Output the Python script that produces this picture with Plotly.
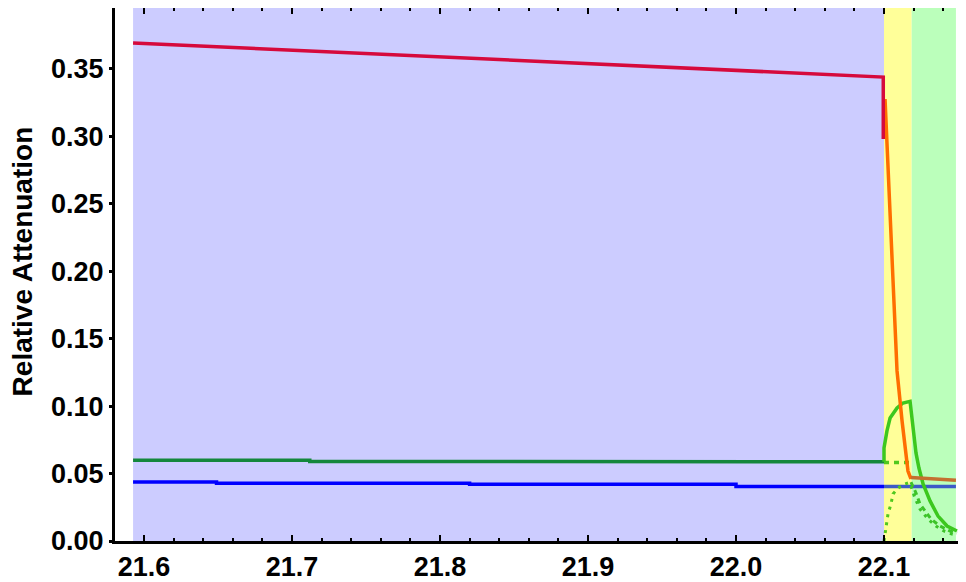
import plotly.graph_objects as go

# regioni di sfondo (x)
blu_x = [21.5926, 22.1000]
giallo_x = [22.1000, 22.1187]
verde_x = [22.1187, 22.1486]

# curva rossa (regione blu)
rosso_x = [21.5926, 22.0995, 22.0995]
rosso_y = [0.3693, 0.3440, 0.2980]

# curva arancione (regione gialla)
arancio_x = [22.1007, 22.1034, 22.1061, 22.1088, 22.1122, 22.1162, 22.1182]
arancio_y = [0.3277, 0.2521, 0.1928, 0.1261, 0.0890, 0.0519, 0.0460]

# curva marrone (regione verde)
marrone_x = [22.1182, 22.1486]
marrone_y = [0.0470, 0.0450]

# verde scuro
verde_sc_x = [21.5926, 21.7120, 21.7120, 22.1000]
verde_sc_y = [0.0598, 0.0598, 0.0590, 0.0588]

# blu
blu_lx = [21.5926, 21.6490, 21.6490, 21.8200, 21.8200, 22.0000, 22.0000, 22.1000]
blu_ly = [0.0437, 0.0437, 0.0428, 0.0428, 0.0420, 0.0420, 0.0405, 0.0405]
blu2_x = [22.1000, 22.1486]
blu2_y = [0.0405, 0.0405]

# verde chiaro (totale)
verde_x_tot = [22.1000, 22.1000, 22.1020, 22.1041, 22.1088, 22.1128, 22.1176, 22.1189,
               22.1203, 22.1216, 22.1236, 22.1264, 22.1311, 22.1365, 22.1426, 22.1493]
verde_y_tot = [0.0588, 0.0690, 0.0816, 0.0912, 0.0986, 0.1023, 0.1035, 0.0927,
               0.0779, 0.0653, 0.0541, 0.0423, 0.0297, 0.0185, 0.0111, 0.0074]

# componenti tratteggiate
tratto_x = [22.1000, 22.1182]
tratto_y = [0.0582, 0.0582]

sale_x = [22.1000, 22.1014, 22.1027, 22.1047, 22.1061, 22.1095, 22.1142, 22.1182]
sale_y = [0.0000, 0.0111, 0.0200, 0.0274, 0.0349, 0.0393, 0.0423, 0.0437]

scende_a_x = [22.1182, 22.1216, 22.1243, 22.1284, 22.1318, 22.1378, 22.1446, 22.1493]
scende_a_y = [0.0437, 0.0356, 0.0274, 0.0208, 0.0163, 0.0111, 0.0074, 0.0059]

scende_b_x = [22.1182, 22.1209, 22.1243, 22.1297, 22.1351, 22.1405, 22.1459, 22.1493]
scende_b_y = [0.0408, 0.0319, 0.0237, 0.0163, 0.0111, 0.0074, 0.0052, 0.0044]

x_range = [21.5804, 22.1554]
y_range = [0, 0.3952]

fig = go.Figure()

def linea(x, y, colore, dash="solid", w=3.5):
    fig.add_trace(go.Scatter(x=x, y=y, mode="lines", showlegend=False,
                             line=dict(color=colore, width=w, dash=dash)))

linea(verde_sc_x, verde_sc_y, "rgb(20,135,60)")
linea(blu_lx, blu_ly, "rgb(0,0,255)")
linea(blu2_x, blu2_y, "rgb(60,90,200)")
linea(tratto_x, tratto_y, "rgb(80,200,30)", dash="5px,5px")
linea(sale_x, sale_y, "rgb(80,200,30)", dash="3px,5px", w=3)
linea(scende_a_x, scende_a_y, "rgb(60,195,40)", dash="5px,4px", w=3)
linea(scende_b_x, scende_b_y, "rgb(60,195,40)", dash="3px,5px", w=3)
linea(verde_x_tot, verde_y_tot, "rgb(60,200,30)")
linea(arancio_x, arancio_y, "rgb(255,110,0)")
linea(marrone_x, marrone_y, "rgb(196,112,48)")
linea(rosso_x, rosso_y, "rgb(214,10,60)")

for (x0, x1), col in [(blu_x, "rgb(204,204,255)"), (giallo_x, "rgb(255,255,153)"),
                      (verde_x, "rgb(187,255,187)")]:
    fig.add_shape(type="rect", x0=x0, x1=x1, y0=y_range[0], y1=y_range[1],
                  fillcolor=col, line_width=0, layer="below")

font_tick = dict(family="Liberation Sans", size=27, color="black", weight="bold")

fig.update_xaxes(range=x_range, showgrid=False, zeroline=False, automargin=False,
                 showline=True, linecolor="black", linewidth=3, mirror="ticks",
                 ticks="inside", ticklen=6, tickwidth=2, tickcolor="black",
                 tickvals=[21.6, 21.7, 21.8, 21.9, 22.0, 22.1],
                 ticktext=["21.6", "21.7", "21.8", "21.9", "22.0", "22.1"],
                 minor=dict(dtick=0.02, tick0=21.6, ticks="inside", ticklen=3,
                            tickwidth=2, tickcolor="black", showgrid=False),
                 tickfont=font_tick)
fig.update_yaxes(range=y_range, showgrid=False, zeroline=False, automargin=False,
                 showline=True, linecolor="black", linewidth=3,
                 ticks="outside", ticklen=3, tickwidth=3, tickcolor="black",
                 tickvals=[0, 0.05, 0.10, 0.15, 0.20, 0.25, 0.30, 0.35],
                 ticktext=["0.00", "0.05", "0.10", "0.15", "0.20", "0.25", "0.30", "0.35"],
                 tickfont=font_tick)

# titolo asse y come annotazione (leggermente sopra il centro)
fig.add_annotation(text="Relative Attenuation", textangle=-90, showarrow=False,
                   xref="paper", yref="paper", x=-0.109, y=0.525,
                   xanchor="center", yanchor="middle",
                   font=dict(family="Liberation Sans", size=28, color="black", weight="bold"))

# la pagina aggiunge 8px di margine al body: compenso qui
fig.update_layout(width=958, height=574, margin=dict(l=107, r=0, t=0, b=41),
                  plot_bgcolor="white", paper_bgcolor="white")

fig.write_html("out.html")
